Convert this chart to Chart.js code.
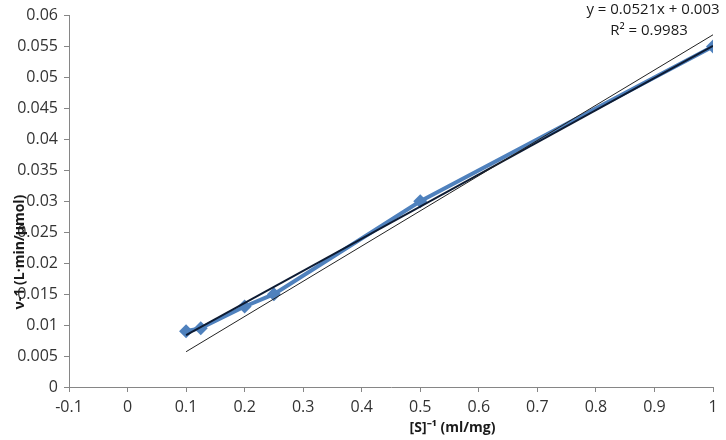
<!DOCTYPE html>
<html>
<head>
<meta charset="utf-8">
<script src="https://cdn.jsdelivr.net/npm/chart.js@4/dist/chart.umd.min.js"></script>
<style>
  html, body { margin: 0; padding: 0; background: #fff; }
  #wrap { width: 726px; height: 440px; }
</style>
</head>
<body>
<div id="wrap"><canvas id="chart"></canvas></div>
<script>
// measured points: [S]^-1 vs v^-1
const S_INV = [0.1, 0.125, 0.2, 0.25, 0.5, 1];
const V_INV = [0.009, 0.0095, 0.013, 0.015, 0.03, 0.055];

// linear trendline (y = 0.0521x + 0.003), endpoints as drawn
const TREND_X = [0.1, 1];
const TREND_Y = [0.0084, 0.0551];

// thin reference line, endpoints as drawn
const REF_X = [0.1, 1];
const REF_Y = [0.0057, 0.0569];

const EQUATION = 'y = 0.0521x + 0.003';
const R2_TEXT = 'R² = 0.9983';
const X_TITLE = '[S]⁻¹ (ml/mg)';
const Y_TITLE = 'ν-1 (L·min/μmol)';

const FONT = '"Open Sans", sans-serif';
const AXIS_GRAY = '#868686';
const TEXT = '#333';

const pairs = (xs, ys) => xs.map((x, i) => ({ x: x, y: ys[i] }));
const fmt = v => String(parseFloat(v.toFixed(4)));

const labelsPlugin = {
    id: 'labels',
    afterDraw(chart) {
        const ctx = chart.ctx;
        const xs = chart.scales.x, ys = chart.scales.y;
        ctx.save();
        ctx.fillStyle = '#1a1a1a';
        ctx.font = '15px ' + FONT;
        ctx.textAlign = 'center';
        ctx.textBaseline = 'middle';
        ctx.fillText(EQUATION, 653, 10);
        ctx.fillText(R2_TEXT, 649, 31);

        ctx.font = 'bold 14px ' + FONT;
        ctx.fillText(X_TITLE, xs.getPixelForValue(0.555), 428);

        ctx.translate(20, ys.getPixelForValue(0.0218));
        ctx.rotate(-Math.PI / 2);
        ctx.fillText(Y_TITLE, 0, 0);
        ctx.restore();
    }
};

new Chart(document.getElementById('chart'), {
    type: 'scatter',
    data: {
        datasets: [
            {
                label: 'data',
                data: pairs(S_INV, V_INV),
                showLine: true,
                borderColor: '#4f81bd',
                backgroundColor: '#4f81bd',
                borderWidth: 4,
                pointStyle: 'rectRot',
                pointRadius: 7,
                pointBorderWidth: 0,
                order: 2
            },
            {
                label: 'trend',
                data: pairs(TREND_X, TREND_Y),
                showLine: true,
                borderColor: '#0d1b33',
                borderWidth: 2,
                pointRadius: 0,
                order: 1
            },
            {
                label: 'ref',
                data: pairs(REF_X, REF_Y),
                showLine: true,
                borderColor: '#222',
                borderWidth: 1,
                pointRadius: 0,
                order: 0
            }
        ]
    },
    options: {
        responsive: true,
        maintainAspectRatio: false,
        animation: false,
        layout: { padding: { top: 14, right: 13, left: 0, bottom: 0 } },
        plugins: {
            legend: { display: false },
            tooltip: { enabled: false }
        },
        scales: {
            x: {
                type: 'linear',
                min: -0.1,
                max: 1,
                afterFit: s => { s.height = 53; },
                ticks: {
                    stepSize: 0.1,
                    color: TEXT,
                    font: { family: FONT, size: 16 },
                    padding: 6,
                    callback: fmt
                },
                grid: { drawOnChartArea: false, color: AXIS_GRAY, tickLength: 5 },
                border: { color: AXIS_GRAY }
            },
            y: {
                min: 0,
                max: 0.06,
                afterFit: s => { s.width = 69; },
                ticks: {
                    stepSize: 0.005,
                    color: TEXT,
                    font: { family: FONT, size: 16 },
                    padding: 6,
                    callback: fmt
                },
                grid: { drawOnChartArea: false, color: AXIS_GRAY, tickLength: 5 },
                border: { color: AXIS_GRAY }
            }
        }
    },
    plugins: [labelsPlugin]
});
</script>
</body>
</html>
